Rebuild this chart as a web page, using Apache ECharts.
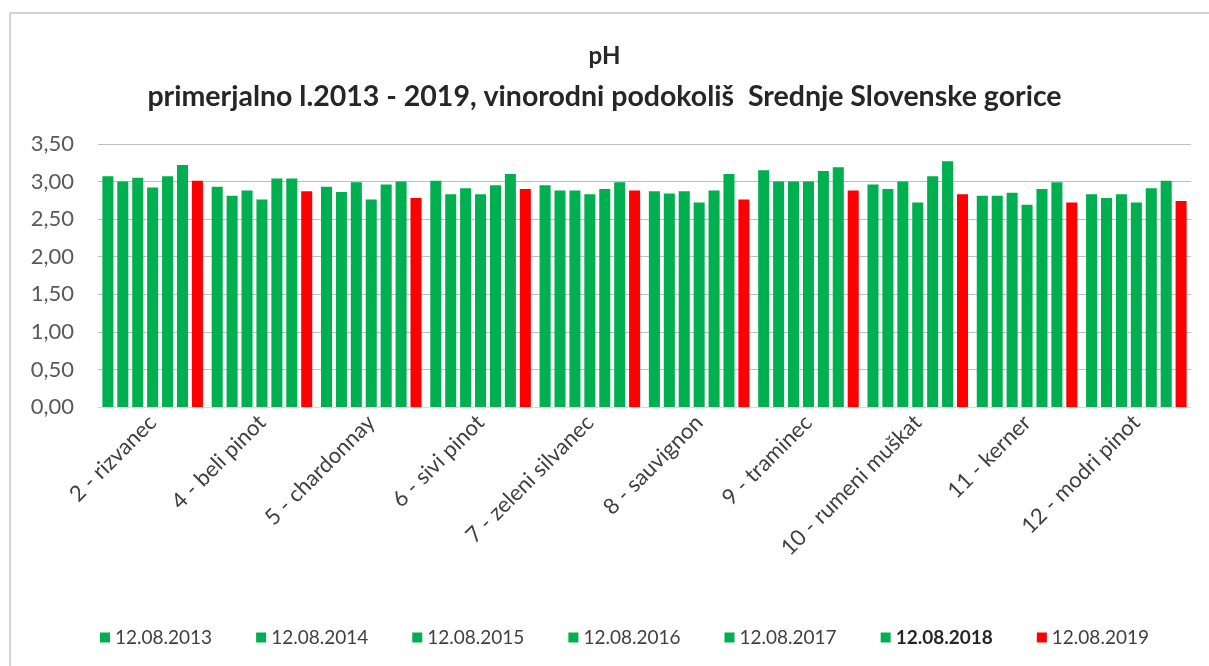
<!DOCTYPE html>
<html>
<head>
<meta charset="utf-8">
<script src="https://cdn.jsdelivr.net/npm/echarts@6/dist/echarts.min.js"></script>
<style>html,body{margin:0;padding:0;background:#fff;}#c{width:1209px;height:666px;}</style>
</head>
<body>
<div id="c"></div>
<script>
const categories = ['2 - rizvanec','4 - beli pinot','5 - chardonnay','6 - sivi pinot','7 - zeleni silvanec','8 - sauvignon','9 - traminec','10 - rumeni muškat','11 - kerner','12 - modri pinot'];
const seriesNames = ['12.08.2013','12.08.2014','12.08.2015','12.08.2016','12.08.2017','12.08.2018','12.08.2019'];
const v2013 = [3.07, 2.93, 2.93, 3.01, 2.95, 2.87, 3.15, 2.96, 2.81, 2.83];
const v2014 = [3.00, 2.81, 2.86, 2.83, 2.88, 2.84, 3.00, 2.90, 2.81, 2.78];
const v2015 = [3.05, 2.88, 2.99, 2.91, 2.88, 2.87, 3.00, 3.00, 2.85, 2.83];
const v2016 = [2.92, 2.76, 2.76, 2.83, 2.83, 2.72, 3.00, 2.72, 2.69, 2.72];
const v2017 = [3.07, 3.04, 2.96, 2.95, 2.90, 2.88, 3.14, 3.07, 2.90, 2.91];
const v2018 = [3.22, 3.04, 3.00, 3.10, 2.99, 3.10, 3.19, 3.27, 2.99, 3.01];
const v2019 = [3.01, 2.87, 2.78, 2.90, 2.88, 2.76, 2.88, 2.83, 2.72, 2.74];
const yTicks = [0, 0.5, 1, 1.5, 2, 2.5, 3, 3.5];

const allValues = [v2013, v2014, v2015, v2016, v2017, v2018, v2019];
const colors = ['#00B050','#00B050','#00B050','#00B050','#00B050','#00B050','#FF0000'];
const FONT = 'Lato, "Open Sans", sans-serif';

const chart = echarts.init(document.getElementById('c'));
chart.setOption({
  animation: false,
  backgroundColor: '#fff',
  graphic: [{
    type: 'rect', shape: {x: 10, y: 13, width: 1300, height: 700},
    style: {fill: 'none', stroke: '#c8c8c8', lineWidth: 1.5}, silent: true
  }],
  title: [
    {text: 'pH', left: 'center', top: 39, textStyle: {fontFamily: FONT, fontSize: 24, fontWeight: 'bold', color: '#262626'}},
    {text: 'primerjalno l.2013 - 2019, vinorodni podokoliš  Srednje Slovenske gorice', left: 'center', top: 77,
     textStyle: {fontFamily: FONT, fontSize: 28.5, fontWeight: 'bold', color: '#262626'}}
  ],
  legend: {
    top: 623, left: 95, itemWidth: 10, itemHeight: 10, itemGap: 44, icon: 'rect',
    textStyle: {fontFamily: FONT, fontSize: 19, color: '#404040'},
    data: seriesNames.map((n, i) => i === 5 ? {name: n, textStyle: {fontWeight: 'bold', color: '#262626'}} : {name: n})
  },
  grid: {left: 98, right: 18, top: 144, bottom: 259, containLabel: false},
  xAxis: {
    type: 'category', data: categories,
    axisLine: {show: true, lineStyle: {color: '#d9d9d9'}},
    axisTick: {show: false},
    axisLabel: {rotate: 45, interval: 0, fontFamily: FONT, fontSize: 22, color: '#404040', margin: 12}
  },
  yAxis: {
    type: 'value', min: 0, max: 3.5, interval: 0.5,
    axisLine: {show: false}, axisTick: {show: false},
    splitLine: {lineStyle: {color: '#bfbfbf'}},
    axisLabel: {fontFamily: FONT, fontSize: 22, color: '#595959', margin: 24,
      formatter: v => yTicks.indexOf(v) >= 0 ? v.toFixed(2).replace('.', ',') : ''}
  },
  series: seriesNames.map((n, i) => ({
    name: n, type: 'bar', data: allValues[i],
    itemStyle: {color: colors[i]},
    barGap: '35%', barCategoryGap: '8%'
  }))
});
</script>
</body>
</html>
